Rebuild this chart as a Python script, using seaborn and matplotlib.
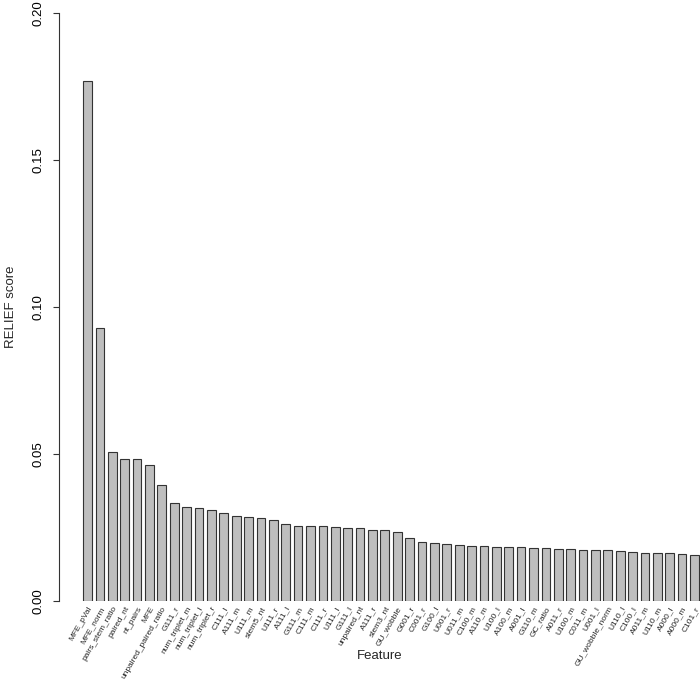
import pandas as pd
import matplotlib
matplotlib.use("Agg")
import matplotlib.pyplot as plt
import seaborn as sns

# RELIEF scores per feature, sorted decreasing
features = [
    "MFE_pVal", "MFE_norm", "pairs_stem_ratio", "paired_nt", "nt_pairs", "MFE",
    "unpaired_paired_ratio", "G111_r", "num_triplet_m", "num_triplet_l",
    "num_triplet_r", "C111_l", "A111_m", "U111_m", "stem5_nt", "U111_r",
    "A111_l", "G111_m", "C111_m", "C111_r", "U111_l", "G111_l", "unpaired_nt",
    "A111_r", "stem3_nt", "GU_wobble", "G001_r", "C001_r", "G100_l", "U001_r",
    "U011_m", "C100_m", "A110_m", "U100_l", "A100_m", "A001_l", "G110_m",
    "GC_ratio", "A011_r", "U100_m", "C011_m", "U001_l", "GU_wobble_norm",
    "U110_l", "C100_l", "A011_m", "U110_m", "A000_l", "A000_m", "C101_r",
]
scores = [
    0.1770, 0.0928, 0.0508, 0.0484, 0.0484, 0.0461,
    0.0395, 0.0332, 0.0321, 0.0316,
    0.0311, 0.0300, 0.0290, 0.0286, 0.0281, 0.0276,
    0.0262, 0.0255, 0.0255, 0.0254, 0.0251, 0.0248, 0.0247,
    0.0243, 0.0241, 0.0236, 0.0215, 0.0200, 0.0196, 0.0193,
    0.0189, 0.0186, 0.0186, 0.0184, 0.0184, 0.0183, 0.0181,
    0.0181, 0.0178, 0.0176, 0.0175, 0.0172, 0.0172,
    0.0170, 0.0168, 0.0163, 0.0162, 0.0162, 0.0160, 0.0155,
]

df = pd.DataFrame({"Feature": features, "RELIEF score": scores})

sns.set_style("white")
plt.rcParams["font.family"] = ["Liberation Sans", "DejaVu Sans"]

fig = plt.figure(figsize=(7, 6.84), dpi=100)
ax = fig.add_axes([0.0843, 0.1213, 0.9157, 0.8597])

sns.barplot(data=df, x="Feature", y="RELIEF score", color="#BEBEBE",
            edgecolor="#333333", linewidth=0.8, width=0.7, saturation=1, ax=ax)

ax.set_ylim(0, 0.20)
ax.set_xlim(-2.3, 49.44)
ax.set_yticks([0, 0.05, 0.10, 0.15, 0.20])
ax.set_yticklabels(["0.00", "0.05", "0.10", "0.15", "0.20"], rotation=90,
                   va="center", fontsize=9.5)
ax.tick_params(axis="y", length=4.5, width=0.8, pad=6, colors="#333333",
               labelcolor="black", left=True)

ax.set_xticks(range(len(features)))
ax.set_xticklabels(features, rotation=60, ha="right", rotation_mode="anchor",
                   fontsize=6)
ax.tick_params(axis="x", length=0, pad=3)

for s in ["top", "right", "bottom"]:
    ax.spines[s].set_visible(False)
ax.spines["left"].set_color("#333333")
ax.spines["left"].set_linewidth(0.8)

ax.set_xlabel("Feature", fontsize=9.5)
ax.xaxis.set_label_coords(0.5, -0.084)
ax.set_ylabel("RELIEF score", fontsize=9.5)
ax.yaxis.set_label_coords(-0.066, 0.5)

fig.savefig("out.png", dpi=100)
